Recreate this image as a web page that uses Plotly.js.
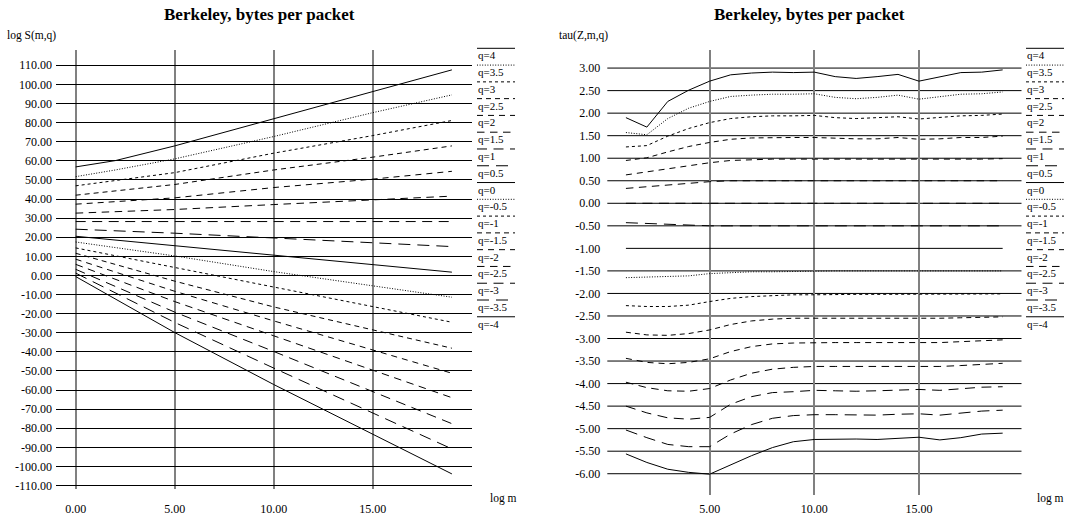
<!DOCTYPE html>
<html><head><meta charset="utf-8">
<script src="https://cdn.plot.ly/plotly-3.0.1.min.js"></script>
<style>html,body{margin:0;padding:0;background:#fff;} #chart{width:1065px;height:516px;}</style>
</head><body><div id="chart"></div>
<script>
// ---------- data ----------
const qValues = [4, 3.5, 3, 2.5, 2, 1.5, 1, 0.5, 0, -0.5, -1, -1.5, -2, -2.5, -3, -3.5, -4];

// left panel: log S(m,q) vs log m
const logM_left = [0, 2, 5, 10, 15, 19];
const logS_q4    = [56.8, 60.1, 67.8, 81.9, 96.1, 107.6];
const logS_q3_5  = [51.7, 55.2, 61.0, 72.7, 85.2, 94.5];
const logS_q3    = [46.9, 49.6, 53.8, 64.0, 73.2, 81.1];
const logS_q2_5  = [42.0, 44.1, 47.6, 55.2, 61.9, 67.8];
const logS_q2    = [37.3, 38.5, 40.6, 46.0, 50.4, 54.5];
const logS_q1_5  = [32.6, 33.3, 34.5, 37.1, 39.5, 41.5];
const logS_q1    = [28.2, 28.2, 28.2, 28.2, 28.2, 28.2];
const logS_q0_5  = [24.2, 23.4, 22.1, 19.6, 17.0, 15.1];
const logS_q0    = [20.5, 18.5, 15.4, 10.6, 5.7, 1.7];
const logS_qm0_5 = [17.5, 14.6, 10.2, 2.0, -5.3, -11.4];
const logS_qm1   = [14.4, 10.3, 4.1, -6.4, -16.6, -24.5];
const logS_qm1_5 = [11.6, 5.8, -3.0, -16.5, -28.4, -38.1];
const logS_qm2   = [8.5, 1.8, -8.3, -23.8, -39.0, -51.2];
const logS_qm2_5 = [5.8, -2.0, -13.7, -31.6, -49.6, -64.0];
const logS_qm3   = [3.2, -5.8, -19.2, -39.8, -60.8, -77.6];
const logS_qm3_5 = [1.2, -9.1, -24.6, -48.5, -72.0, -90.8];
const logS_qm4   = [-0.6, -12.5, -29.9, -57.1, -83.1, -103.9];

// right panel: tau(Z,m,q) vs log m
const logM_right = [1, 2, 3, 4, 5, 6, 7, 8, 9, 10, 11, 12, 13, 14, 15, 16, 17, 18, 19];
const tau_q4    = [1.90, 1.69, 2.26, 2.51, 2.71, 2.85, 2.89, 2.91, 2.90, 2.91, 2.81, 2.77, 2.81, 2.86, 2.71, 2.81, 2.90, 2.91, 2.96];
const tau_q3_5  = [1.57, 1.52, 1.88, 2.11, 2.26, 2.37, 2.40, 2.42, 2.42, 2.43, 2.35, 2.32, 2.35, 2.40, 2.31, 2.37, 2.42, 2.43, 2.47];
const tau_q3    = [1.25, 1.28, 1.49, 1.66, 1.79, 1.88, 1.92, 1.94, 1.94, 1.95, 1.90, 1.88, 1.90, 1.92, 1.87, 1.90, 1.94, 1.95, 1.98];
const tau_q2_5  = [0.95, 1.01, 1.14, 1.26, 1.35, 1.42, 1.45, 1.46, 1.46, 1.46, 1.44, 1.43, 1.43, 1.46, 1.42, 1.43, 1.46, 1.46, 1.49];
const tau_q2    = [0.63, 0.70, 0.77, 0.84, 0.90, 0.95, 0.97, 0.98, 0.98, 0.98, 0.98, 0.97, 0.97, 0.98, 0.97, 0.98, 0.98, 0.98, 0.99];
const tau_q1_5  = [0.33, 0.37, 0.41, 0.44, 0.48, 0.50, 0.50, 0.50, 0.50, 0.50, 0.50, 0.50, 0.50, 0.50, 0.50, 0.50, 0.50, 0.50, 0.50];
const tau_q1    = [0, 0, 0, 0, 0, 0, 0, 0, 0, 0, 0, 0, 0, 0, 0, 0, 0, 0, 0];
const tau_q0_5  = [-0.43, -0.45, -0.47, -0.49, -0.50, -0.50, -0.50, -0.50, -0.50, -0.50, -0.50, -0.50, -0.50, -0.50, -0.50, -0.50, -0.50, -0.50, -0.50];
const tau_q0    = [-1, -1, -1, -1, -1, -1, -1, -1, -1, -1, -1, -1, -1, -1, -1, -1, -1, -1, -1];
const tau_qm0_5 = [-1.65, -1.64, -1.63, -1.61, -1.56, -1.54, -1.52, -1.52, -1.51, -1.50, -1.50, -1.50, -1.50, -1.50, -1.50, -1.50, -1.50, -1.50, -1.50];
const tau_qm1   = [-2.27, -2.29, -2.29, -2.26, -2.18, -2.11, -2.07, -2.05, -2.03, -2.03, -2.02, -2.02, -2.02, -2.02, -2.02, -2.02, -2.02, -2.01, -2.01];
const tau_qm1_5 = [-2.86, -2.92, -2.93, -2.89, -2.81, -2.69, -2.61, -2.57, -2.55, -2.55, -2.55, -2.56, -2.56, -2.55, -2.55, -2.55, -2.54, -2.53, -2.52];
const tau_qm2   = [-3.44, -3.53, -3.56, -3.53, -3.45, -3.29, -3.18, -3.12, -3.10, -3.09, -3.09, -3.09, -3.09, -3.09, -3.09, -3.09, -3.07, -3.05, -3.03];
const tau_qm2_5 = [-3.97, -4.09, -4.16, -4.17, -4.11, -3.92, -3.77, -3.68, -3.64, -3.62, -3.62, -3.62, -3.62, -3.61, -3.61, -3.62, -3.60, -3.57, -3.55];
const tau_qm3   = [-4.50, -4.65, -4.76, -4.79, -4.75, -4.46, -4.29, -4.20, -4.18, -4.15, -4.16, -4.17, -4.16, -4.14, -4.13, -4.15, -4.11, -4.08, -4.07];
const tau_qm3_5 = [-5.03, -5.20, -5.35, -5.40, -5.40, -5.12, -4.91, -4.77, -4.71, -4.69, -4.69, -4.70, -4.70, -4.68, -4.67, -4.70, -4.66, -4.61, -4.59];
const tau_qm4   = [-5.56, -5.75, -5.90, -5.97, -6.01, -5.80, -5.60, -5.42, -5.29, -5.24, -5.23, -5.23, -5.24, -5.22, -5.19, -5.25, -5.20, -5.12, -5.10];

// ticks
const leftXTicks  = [0, 5, 10, 15];
const leftYTicks  = [110, 100, 90, 80, 70, 60, 50, 40, 30, 20, 10, 0, -10, -20, -30, -40, -50, -60, -70, -80, -90, -100, -110];
const rightXTicks = [5, 10, 15];
const rightYTicks = [3, 2.5, 2, 1.5, 1, 0.5, 0, -0.5, -1, -1.5, -2, -2.5, -3, -3.5, -4, -4.5, -5, -5.5, -6];
const rightYNoGrid = [-1];

const titleText = 'Berkeley, bytes per packet';

// ---------- build ----------
const logS = [logS_q4, logS_q3_5, logS_q3, logS_q2_5, logS_q2, logS_q1_5, logS_q1, logS_q0_5, logS_q0,
              logS_qm0_5, logS_qm1, logS_qm1_5, logS_qm2, logS_qm2_5, logS_qm3, logS_qm3_5, logS_qm4];
const tau = [tau_q4, tau_q3_5, tau_q3, tau_q2_5, tau_q2, tau_q1_5, tau_q1, tau_q0_5, tau_q0,
             tau_qm0_5, tau_qm1, tau_qm1_5, tau_qm2, tau_qm2_5, tau_qm3, tau_qm3_5, tau_qm4];

const dashes = ['solid', '1px,1.6px', '3px,3px', '5px,4px', '6px,5px', '7.5px,5.5px', '10px,6.5px', '12px,7px'];
const FONT = '"Liberation Serif"';
const W = 1065, H = 516;
const px = v => v / W;
const py = v => 1 - v / H;

const traces = [];
qValues.forEach((q, i) => {
  const line = {color: '#000', width: 1, dash: dashes[i % 8]};
  traces.push({x: logM_left, y: logS[i], xaxis: 'x', yaxis: 'y', mode: 'lines', line, showlegend: false, hoverinfo: 'skip'});
  traces.push({x: logM_right, y: tau[i], xaxis: 'x2', yaxis: 'y2', mode: 'lines', line, showlegend: false, hoverinfo: 'skip'});
});

const shapes = [];
const annotations = [];

// right panel horizontal grid (the -1.00 line is absent in the reference)
rightYTicks.filter(v => !rightYNoGrid.includes(v)).forEach(v => {
  shapes.push({type: 'line', xref: 'x2 domain', yref: 'y2', x0: 0, x1: 1, y0: v, y1: v,
               line: {color: '#000', width: 1}, layer: 'below'});
});

// custom legends (line sample above label)
const legendTop = 48.3, legendStep = 16.78;
[[477, 515], [1026, 1064]].forEach(([x0, x1]) => {
  qValues.forEach((q, i) => {
    const yy = legendTop + i * legendStep;
    shapes.push({type: 'line', xref: 'paper', yref: 'paper', x0: px(x0), x1: px(x1), y0: py(yy), y1: py(yy),
                 line: {color: '#000', width: 1, dash: dashes[i % 8]}});
    annotations.push({xref: 'paper', yref: 'paper', x: px(x0 - 1), y: py(yy + 7), xanchor: 'left', yanchor: 'middle',
                      text: 'q=' + q, showarrow: false, font: {family: FONT, size: 11, color: '#000'}});
  });
});

// titles and axis labels
const txt = (text, x, y, xanchor, size) => ({xref: 'paper', yref: 'paper', x: px(x), y: py(y), xanchor, yanchor: 'middle',
  text, showarrow: false, font: {family: FONT, size, color: '#000'}});
annotations.push(txt('<b>' + titleText + '</b>', 259, 14, 'center', 17));
annotations.push(txt('<b>' + titleText + '</b>', 809, 14, 'center', 17));
annotations.push(txt('log S(m,q)', 5, 35, 'left', 11.5));
annotations.push(txt('tau(Z,m,q)', 557, 35, 'left', 11.5));
annotations.push(txt('log m', 488, 498, 'left', 11.5));
annotations.push(txt('log m', 1035, 498, 'left', 11.5));

const tickFont = {family: FONT, size: 12, color: '#000'};
const fmt = a => a.map(v => v.toFixed(2));

const layout = {
  width: W, height: H, margin: {l: 0, r: 0, t: 0, b: 0}, paper_bgcolor: '#fff', plot_bgcolor: '#fff',
  showlegend: false, font: {family: FONT, color: '#000'},
  xaxis: {domain: [px(55.9), px(471.7)], range: [-1, 20], anchor: 'y', tickvals: leftXTicks, ticktext: fmt(leftXTicks),
          showgrid: true, gridcolor: '#808080', gridwidth: 2, zeroline: false, showline: false, ticks: '',
          tickfont: tickFont, ticklabelstandoff: 11},
  yaxis: {domain: [py(489), py(50)], range: [-111.8, 118.0], anchor: 'x', tickvals: leftYTicks, ticktext: fmt(leftYTicks),
          showgrid: true, gridcolor: '#000', gridwidth: 1, zeroline: false, showline: false, ticks: '',
          tickfont: tickFont, ticklabelstandoff: 3},
  xaxis2: {domain: [px(607.3), px(1021.5)], range: [0.11, 19.9], anchor: 'y2', tickvals: rightXTicks, ticktext: fmt(rightXTicks),
          showgrid: true, gridcolor: '#808080', gridwidth: 2, zeroline: false, showline: false, ticks: '',
          tickfont: tickFont, ticklabelstandoff: 5},
  yaxis2: {domain: [py(495), py(50)], range: [-6.472, 3.401], anchor: 'x2', tickvals: rightYTicks, ticktext: fmt(rightYTicks),
          showgrid: false, zeroline: false, showline: false, ticks: '',
          tickfont: tickFont, ticklabelstandoff: 6},
  shapes, annotations
};

Plotly.newPlot('chart', traces, layout, {staticPlot: true, displayModeBar: false});
</script>
</body></html>
